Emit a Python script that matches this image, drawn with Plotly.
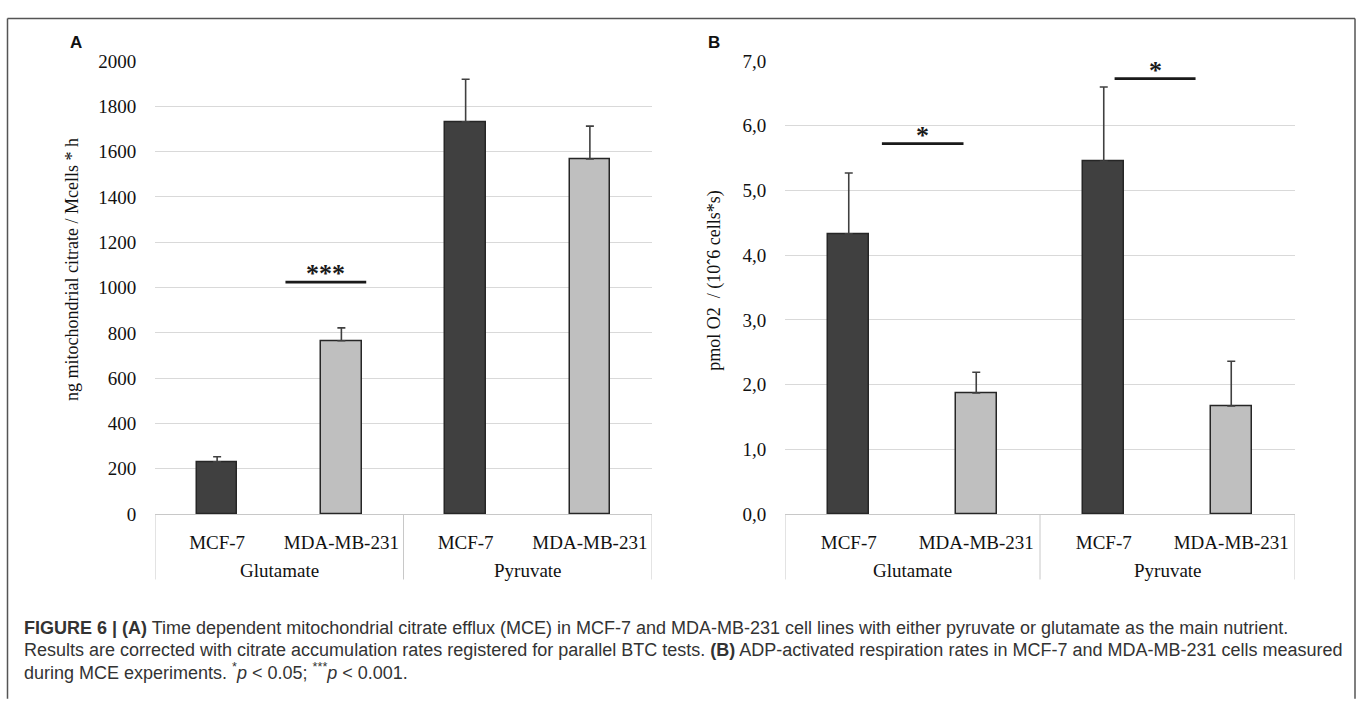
import plotly.graph_objects as go

# ---------------- data ----------------
nutrients = ["Glutamate", "Glutamate", "Pyruvate", "Pyruvate"]
cell_lines = ["MCF-7", "MDA-MB-231", "MCF-7", "MDA-MB-231"]
group_names = ["Glutamate", "Pyruvate"]

citrate_vals = [230, 765, 1732, 1568]
citrate_err = [23, 57, 188, 145]

resp_vals = [4.33, 1.87, 5.45, 1.67]
resp_err = [0.94, 0.32, 1.15, 0.69]

# significance brackets: (x start, x end, y, label) in category-index units
sig_a = [(0.55, 1.20, 1024, "***")]
sig_b = [(0.26, 0.90, 5.725, "*"), (2.085, 2.72, 6.73, "*")]

y_title_a = "ng mitochondrial citrate / Mcells * h"
y_title_b = "pmol O2  / (10ˆ6 cells*s)"

caption_lines = [
    "<b>FIGURE 6 | (A)</b> Time dependent mitochondrial citrate efflux (MCE) in MCF-7 and MDA-MB-231 cell lines with either pyruvate or glutamate as the main nutrient.",
    "Results are corrected with citrate accumulation rates registered for parallel BTC tests. <b>(B)</b> ADP-activated respiration rates in MCF-7 and MDA-MB-231 cells measured",
    "during MCE experiments. <sup>*</sup><i>p</i> &lt; 0.05; <sup>***</sup><i>p</i> &lt; 0.001.",
]

# ---------------- styling ----------------
W, H = 1358, 704
DARK = "#404040"
LIGHT = "#bfbfbf"
EDGE = "#262626"
GRID = "#d9d9d9"
AXLINE = "#c8c8c8"
SERIF = "Liberation Serif"
SANS = "Liberation Sans"
bar_colors = [DARK, LIGHT, DARK, LIGHT]
BAR_W = 0.325


def px_x(x):
    return x / W


def px_y(y):
    return 1 - y / H


plot_top, plot_bot = 52.7, 519.5
ydom = [px_y(plot_bot), px_y(plot_top)]
xdom_a = [px_x(155), px_x(652)]
xdom_b = [px_x(785), px_x(1295)]

fig = go.Figure()

for vals, errs, xa, ya in [(citrate_vals, citrate_err, "x", "y"),
                           (resp_vals, resp_err, "x2", "y2")]:
    fig.add_trace(go.Bar(
        x=list(range(len(vals))), y=vals, xaxis=xa, yaxis=ya,
        width=BAR_W,
        marker=dict(color=bar_colors, line=dict(color=EDGE, width=1.5)),
        error_y=dict(type="data", symmetric=False, array=errs,
                     arrayminus=[0] * len(errs), color=DARK,
                     thickness=1.6, width=4),
        showlegend=False, hoverinfo="y",
    ))

common_x = dict(range=[-0.5, 3.5], tickmode="array",
                tickvals=list(range(len(cell_lines))), ticktext=cell_lines,
                showgrid=False, zeroline=False, showline=True,
                linecolor=AXLINE, linewidth=1, ticks="outside",
                ticklen=11, tickcolor="rgba(0,0,0,0)",
                tickfont=dict(family=SERIF, size=19, color="#111"),
                fixedrange=True)
common_y = dict(domain=ydom, showgrid=True, gridcolor=GRID, gridwidth=1,
                zeroline=False, showline=False, ticks="outside",
                ticklen=14, tickcolor="rgba(0,0,0,0)",
                tickfont=dict(family=SERIF, size=19, color="#111"),
                fixedrange=True)

fig.update_layout(
    width=W, height=H, margin=dict(l=0, r=0, t=0, b=0),
    paper_bgcolor="white", plot_bgcolor="white",
    separators=",.",
    bargap=0,
    xaxis=dict(domain=xdom_a, anchor="y", **common_x),
    yaxis=dict(anchor="x", range=[0, 2000], dtick=200, **common_y),
    xaxis2=dict(domain=xdom_b, anchor="y2", **common_x),
    yaxis2=dict(anchor="x2", range=[0, 7], dtick=1, tickformat=".1f", **common_y),
)

shapes = []
annotations = []

# group dividers and group labels (Excel-style multi-level category axis)
for xa in ["x", "x2"]:
    for xv in [-0.5, 1.5, 3.5]:
        shapes.append(dict(type="line", xref=xa, yref="paper",
                           x0=xv, x1=xv, y0=px_y(plot_bot), y1=px_y(587),
                           line=dict(color=AXLINE, width=1)))
    for gi, g in enumerate(group_names):
        annotations.append(dict(xref=xa, yref="paper", x=gi * 2 + 0.5,
                                y=px_y(577.5), text=g, showarrow=False,
                                xanchor="center", yanchor="middle",
                                font=dict(family=SERIF, size=19, color="#111")))

# significance brackets
for xa, ya, sigs in [("x", "y", sig_a), ("x2", "y2", sig_b)]:
    for x0, x1, yv, lab in sigs:
        shapes.append(dict(type="line", xref=xa, yref=ya, x0=x0, x1=x1,
                           y0=yv, y1=yv, line=dict(color="#1a1a1a", width=2.6)))
        annotations.append(dict(xref=xa, yref=ya, x=(x0 + x1) / 2, y=yv,
                                text="<b>" + lab + "</b>", showarrow=False,
                                xanchor="center", yanchor="bottom", yshift=-8,
                                font=dict(family=SERIF, size=26, color="#1a1a1a")))

# axis titles
annotations.append(dict(xref="paper", yref="paper", x=px_x(72), y=px_y(268),
                        text=y_title_a, textangle=-90, showarrow=False,
                        xanchor="center", yanchor="middle",
                        font=dict(family=SERIF, size=18, color="#111")))
annotations.append(dict(xref="paper", yref="paper", x=px_x(715), y=px_y(279),
                        text=y_title_b, textangle=-90, showarrow=False,
                        xanchor="center", yanchor="middle",
                        font=dict(family=SERIF, size=18, color="#111")))

# panel letters
annotations.append(dict(xref="paper", yref="paper", x=px_x(76), y=px_y(34),
                        text="<b>A</b>", showarrow=False, xanchor="center",
                        yanchor="middle", font=dict(family=SANS, size=17, color="#111")))
annotations.append(dict(xref="paper", yref="paper", x=px_x(714), y=px_y(33),
                        text="<b>B</b>", showarrow=False, xanchor="center",
                        yanchor="middle", font=dict(family=SANS, size=17, color="#111")))

# caption
for line, yc in zip(caption_lines, [637, 660, 682]):
    annotations.append(dict(xref="paper", yref="paper", x=px_x(22), y=px_y(yc),
                            text=line, showarrow=False, xanchor="left",
                            yanchor="middle", align="left",
                            font=dict(family=SANS, size=18, color="#333333")))

# outer frame (left, top, right)
frame = dict(color="#555555", width=1.5)
shapes.append(dict(type="line", xref="paper", yref="paper", x0=px_x(7.5), x1=px_x(7.5),
                   y0=px_y(8.7), y1=px_y(710), line=frame))
shapes.append(dict(type="line", xref="paper", yref="paper", x0=px_x(7.5), x1=px_x(1355),
                   y0=px_y(8.7), y1=px_y(8.7), line=frame))
shapes.append(dict(type="line", xref="paper", yref="paper", x0=px_x(1355), x1=px_x(1355),
                   y0=px_y(8.7), y1=px_y(710), line=frame))

fig.update_layout(shapes=shapes, annotations=annotations)

fig.write_html(
    "out.html",
    config={"displayModeBar": False, "staticPlot": False},
    post_script="document.body.style.margin='0';document.body.style.padding='0';"
                "document.body.style.overflow='hidden';",
)
